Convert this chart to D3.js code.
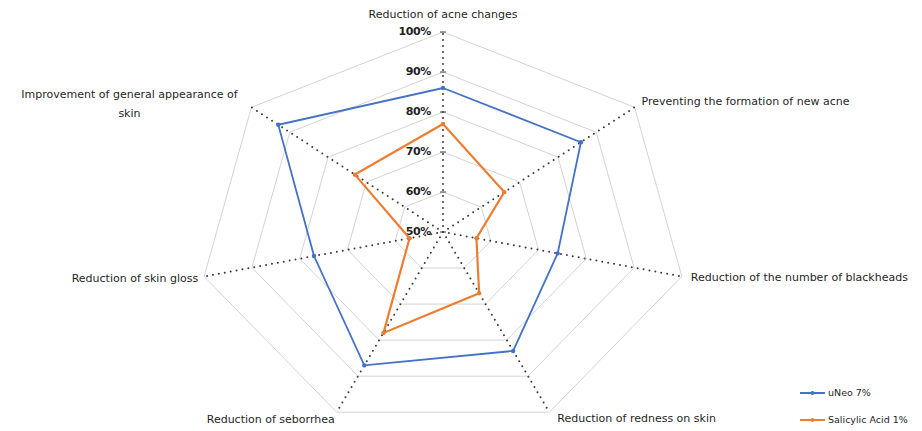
<!DOCTYPE html>
<html>
<head>
<meta charset="utf-8">
<title>Radar chart</title>
<style>
  body { margin: 0; background: #fff; }
  text { font-family: "DejaVu Sans", sans-serif; fill: #1f1f1f; }
</style>
</head>
<body>
<svg id="chart" width="922" height="431"></svg>
<script src="https://d3js.org/d3.v7.min.js"></script>
<script>
// data, clockwise from the top
const categories = [
  "Reduction of acne changes",
  "Preventing the formation of new acne",
  "Reduction of the number of blackheads",
  "Reduction of redness on skin",
  "Reduction of seborrhea",
  "Reduction of skin gloss",
  "Improvement of general appearance of skin"
];
const uneo = [0.86, 0.86, 0.74, 0.83, 0.87, 0.77, 0.93];
const salicylic = [0.77, 0.66, 0.57, 0.67, 0.78, 0.57, 0.73];
const ticks = [0.5, 0.6, 0.7, 0.8, 0.9, 1.0];
const seriesNames = ["uNeo 7%", "Salicylic Acid 1%"];
const seriesColors = ["#4472c4", "#ed7d31"];

const svg = d3.select("#chart");
const cx = 443, cy = 232;
const stretch = 1.225; // picture is wider than tall
const r = d3.scaleLinear().domain([0.5, 1]).range([0, 200]);
const angle = d3.scaleLinear().domain([0, categories.length]).range([0, 2 * Math.PI]);

function pt(i, v) {
  const a = angle(i), d = r(v);
  return [cx + stretch * d * Math.sin(a), cy - d * Math.cos(a)];
}

// grid rings
const ring = d3.line().curve(d3.curveLinearClosed);
ticks.slice(1).forEach(t => {
  svg.append("path")
    .attr("d", ring(categories.map((c, i) => pt(i, t))))
    .attr("fill", "none")
    .attr("stroke", "#d4d4d4")
    .attr("stroke-width", 1);
});

// dotted axes
categories.forEach((c, i) => {
  const [x, y] = pt(i, 1);
  svg.append("line")
    .attr("x1", cx).attr("y1", cy).attr("x2", x).attr("y2", y)
    .attr("stroke", "#3a3a3a")
    .attr("stroke-width", 2)
    .attr("stroke-linecap", "round")
    .attr("stroke-dasharray", "0,6");
});

// value axis ticks + labels
ticks.forEach(t => {
  const [x, y] = pt(0, t);
  svg.append("line")
    .attr("x1", x - 3).attr("x2", x + 3).attr("y1", y).attr("y2", y)
    .attr("stroke", "#404040");
  svg.append("text")
    .attr("x", x - 12).attr("y", y)
    .attr("text-anchor", "end")
    .attr("dominant-baseline", "middle")
    .attr("font-size", 11)
    .attr("font-weight", "bold")
    .attr("letter-spacing", -0.4)
    .text(d3.format(".0%")(t));
});

// category labels
const labelOff = [
  { dx: 0, dy: -17, anchor: "middle" },
  { dx: 7, dy: -5, anchor: "start" },
  { dx: 9, dy: 1, anchor: "start" },
  { dx: 8, dy: 7, anchor: "start" },
  { dx: -2, dy: 8, anchor: "end" },
  { dx: -6, dy: 2, anchor: "end" },
  { dx: -122, dy: -12, anchor: "middle" }
];
categories.forEach((c, i) => {
  const [x, y] = pt(i, 1);
  const o = labelOff[i];
  const t = svg.append("text")
    .attr("x", x + o.dx).attr("y", y + o.dy)
    .attr("text-anchor", o.anchor)
    .attr("dominant-baseline", "middle")
    .attr("font-size", 11);
  if (i === 6) {
    t.append("tspan").attr("x", x + o.dx).text("Improvement of general appearance of");
    t.append("tspan").attr("x", x + o.dx).attr("dy", 19).text("skin");
  } else {
    t.text(c);
  }
});

// series
[uneo, salicylic].forEach((vals, s) => {
  const pts = vals.map((v, i) => pt(i, v));
  svg.append("path")
    .attr("d", ring(pts))
    .attr("fill", "none")
    .attr("stroke", seriesColors[s])
    .attr("stroke-width", s === 0 ? 1.8 : 2.2);
  svg.selectAll(null).data(pts).join("circle")
    .attr("cx", d => d[0]).attr("cy", d => d[1])
    .attr("r", 2.2)
    .attr("fill", seriesColors[s]);
});

// legend
seriesNames.forEach((n, s) => {
  const y = 393 + s * 27;
  svg.append("line")
    .attr("x1", 800).attr("x2", 825).attr("y1", y).attr("y2", y)
    .attr("stroke", seriesColors[s]).attr("stroke-width", 2);
  svg.append("circle").attr("cx", 812.5).attr("cy", y).attr("r", 2).attr("fill", seriesColors[s]);
  svg.append("text")
    .attr("x", 828).attr("y", y)
    .attr("dominant-baseline", "middle")
    .attr("font-size", 9.5)
    .text(n);
});
</script>
</body>
</html>
